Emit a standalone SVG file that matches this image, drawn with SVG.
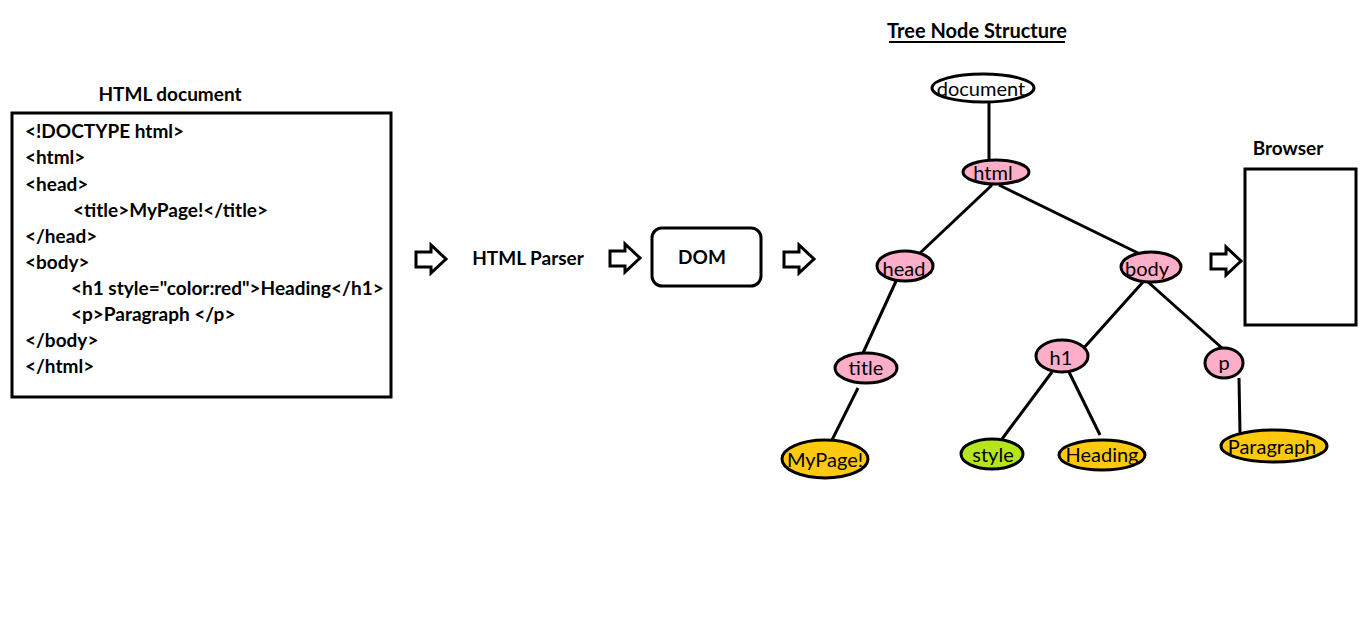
<svg xmlns="http://www.w3.org/2000/svg" width="1360" height="623" viewBox="0 0 1360 623">
<defs>
<style>
.t{font-family:Lato,"Liberation Sans",sans-serif;font-weight:bold;font-size:19px;fill:#000}
.h{font-size:19px}
.n{font-family:Lato,"Liberation Sans",sans-serif;font-size:20px;fill:#000;text-anchor:middle;dominant-baseline:central}
.box{fill:#fff;stroke:#000;stroke-width:3}
.e{stroke:#000;stroke-width:3}
.pink{fill:#FFAEC9}
.gold{fill:#FFC90E}
.green{fill:#B5E61D}
.white{fill:#fff}
.c line{stroke:#000;stroke-width:3}
.ar{fill:#fff;stroke:#000;stroke-width:3;stroke-linejoin:miter}
</style>
<path id="arr" d="M0,-7 L15,-7 L15,-14 L30,0 L15,14 L15,8 L0,8 Z"/>
</defs>
<rect width="1360" height="623" fill="#fff"/>

<g id="html-document">
<text class="t" x="170" y="101" text-anchor="middle">HTML document</text>
<rect class="box" x="12" y="113" width="379" height="284"/>
<text class="t" x="25" y="138">&lt;!DOCTYPE html&gt;</text>
<text class="t" x="25" y="164">&lt;html&gt;</text>
<text class="t" x="25" y="191">&lt;head&gt;</text>
<text class="t" x="73" y="217">&lt;title&gt;MyPage!&lt;/title&gt;</text>
<text class="t" x="25" y="243">&lt;/head&gt;</text>
<text class="t" x="25" y="269">&lt;body&gt;</text>
<text class="t" x="71" y="295">&lt;h1 style="color:red"&gt;Heading&lt;/h1&gt;</text>
<text class="t" x="71" y="321">&lt;p&gt;Paragraph &lt;/p&gt;</text>
<text class="t" x="25" y="347">&lt;/body&gt;</text>
<text class="t" x="25" y="373">&lt;/html&gt;</text>
</g>

<g id="arrows">
<use href="#arr" class="ar" x="416" y="259"/>
<use href="#arr" class="ar" x="610" y="258"/>
<use href="#arr" class="ar" x="784" y="259"/>
<use href="#arr" class="ar" x="1211" y="261"/>
</g>

<g id="parser">
<text class="t" x="528" y="265" text-anchor="middle">HTML Parser</text>
</g>

<g id="dom">
<rect class="box" x="652" y="228" width="109" height="58" rx="10"/>
<text class="t" x="702" y="264" text-anchor="middle">DOM</text>
</g>

<g id="tree-title">
<text class="t" x="977" y="38" text-anchor="middle" style="font-size:20px">Tree Node Structure</text>
<line x1="889" y1="42" x2="1065" y2="42" stroke="#000" stroke-width="2"/>
</g>

<g id="connectors" class="c">
<line x1="989" y1="102" x2="989" y2="160"/>
<line x1="992" y1="185" x2="920" y2="253"/>
<line x1="999" y1="185" x2="1140" y2="254"/>
<line x1="897" y1="279" x2="863" y2="353"/>
<line x1="858" y1="388" x2="832" y2="440"/>
<line x1="1143" y1="282" x2="1082" y2="350"/>
<line x1="1148" y1="282" x2="1222" y2="348"/>
<line x1="1052" y1="372" x2="1002" y2="439"/>
<line x1="1069" y1="372" x2="1100" y2="435"/>
<line x1="1239" y1="378" x2="1240" y2="433"/>
</g>

<g id="node-document"><ellipse class="e white" cx="983" cy="88" rx="51" ry="14"/><text class="n" x="981" y="88">document</text></g>
<g id="node-html"><ellipse class="e pink" cx="996" cy="172" rx="33" ry="12"/><text class="n" x="993" y="172">html</text></g>
<g id="node-head"><ellipse class="e pink" cx="905" cy="266" rx="28" ry="15"/><text class="n" x="904" y="268">head</text></g>
<g id="node-body"><ellipse class="e pink" cx="1151" cy="267" rx="30" ry="15"/><text class="n" x="1147" y="268">body</text></g>
<g id="node-title"><ellipse class="e pink" cx="866" cy="368" rx="31" ry="15"/><text class="n" x="866" y="367">title</text></g>
<g id="node-h1"><ellipse class="e pink" cx="1062" cy="356" rx="26" ry="16"/><text class="n" x="1061" y="357">h1</text></g>
<g id="node-p"><ellipse class="e pink" cx="1224" cy="363" rx="19" ry="15"/><text class="n" x="1224" y="362">p</text></g>
<g id="node-mypage"><ellipse class="e gold" cx="825" cy="459" rx="43" ry="19"/><text class="n" x="825" y="459">MyPage!</text></g>
<g id="node-style"><ellipse class="e green" cx="992" cy="454" rx="31" ry="15"/><text class="n" x="993" y="454">style</text></g>
<g id="node-heading"><ellipse class="e gold" cx="1102" cy="455" rx="43" ry="15"/><text class="n" x="1102" y="454">Heading</text></g>
<g id="node-paragraph"><ellipse class="e gold" cx="1274" cy="446" rx="53" ry="16"/><text class="n" x="1272" y="446">Paragraph</text></g>

<g id="browser">
<text class="t" x="1288" y="155" text-anchor="middle">Browser</text>
<rect class="box" x="1245" y="169" width="111" height="156"/>
</g>
</svg>
